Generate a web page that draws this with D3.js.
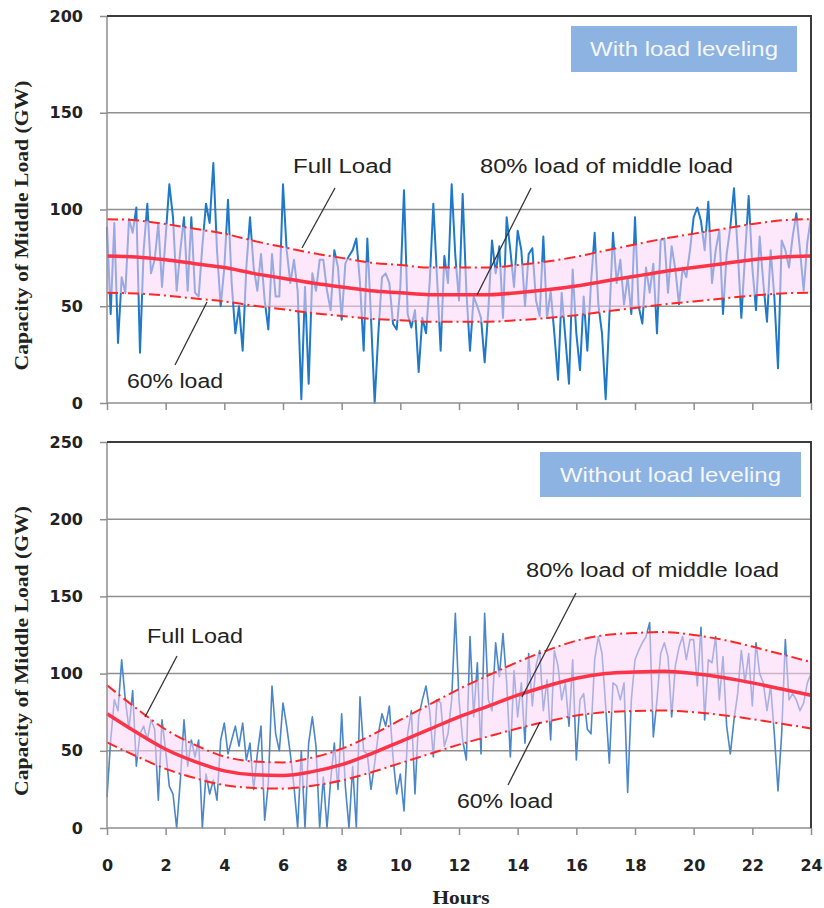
<!DOCTYPE html>
<html>
<head>
<meta charset="utf-8">
<script src="https://cdn.jsdelivr.net/npm/d3@7"></script>
<style>
  body { margin: 0; background: #fff; }
  svg { display: block; }
</style>
</head>
<body>
<svg id="chart"></svg>
<script>
// middle load samples, one every 7.5 minutes (0h .. 24h)
const loadWith = [
  91,46,93,31,65,57,95,88,101,26,79,103,67,74,93,60,86,113,96,58,79,96,58,96,57,55,81,103,93,124,79,50,70,105,62,36,50,27,70,96,70,58,77,53,38,77,55,55,
  113,79,62,74,58,2,60,10,67,58,74,74,58,48,79,70,43,72,76,79,85,62,27,85,44,0,36,65,67,62,41,38,60,110,46,39,48,16,44,36,62,103,65,27,76,62,113,76,53,
  108,58,27,55,50,44,21,48,84,67,81,44,96,79,60,89,79,50,77,80,53,45,86,44,58,36,12,57,34,10,69,36,17,55,27,62,88,51,36,2,44,88,62,74,51,65,46,96,
  50,41,70,57,72,36,84,85,57,81,69,51,70,65,79,96,101,94,79,104,62,79,89,46,77,91,111,79,44,76,107,70,48,86,62,42,79,55,18,84,79,70,86,98,79,58,83,96
];
const loadWithout = [
  20,57,83,76,109,83,64,89,40,61,66,57,70,64,18,70,50,27,22,0,31,70,40,57,46,57,0,35,22,31,18,57,68,48,57,66,53,68,44,55,25,48,66,5,29,92,61,50,
  81,66,48,27,0,50,0,55,72,53,0,33,0,31,55,25,74,27,0,40,0,85,50,48,25,42,61,74,66,79,46,22,35,11,61,76,22,72,83,92,76,46,83,81,53,61,83,139,
  83,57,44,124,72,107,48,139,83,76,120,98,126,94,46,102,72,94,55,113,79,105,115,76,96,57,115,105,83,94,66,109,44,83,87,64,61,109,124,113,79,42,94,92,83,94,23,83,109,
  115,120,124,133,59,83,113,120,111,72,105,117,124,109,122,122,92,130,70,109,107,124,83,111,66,48,70,87,115,94,113,79,120,100,94,76,92,61,24,61,122,83,87,83,76,81,94,100
];

// hourly band curves
const bandHours = [0,1,2,3,4,5,6,7,8,9,10,11,12,13,14,15,16,17,18,19,20,21,22,23,24];
const midWith  = [76,75.5,74,72,70,67,64.5,62,60,58,57,56,56,56,57,58.5,60.5,63,65.5,68,70,72,74,75.5,76];
const fullWith = [95,94.4,92.5,90,87.5,83.8,80.6,77.5,75,72.5,71.3,70,70,70,71.3,73.1,75.6,78.8,81.9,85,87.5,90,92.5,94.4,95];
const lowWith  = [57,56.6,55.5,54,52.5,50.3,48.4,46.5,45,43.5,42.8,42,42,42,42.8,43.9,45.4,47.3,49.1,51,52.5,54,55.5,56.6,57];
const midWithout  = [74,62,51,43,37,34.5,34,36.5,41,48,56,64,72,79,86,92,97,100,101,101.5,100,97.5,94,90,86];
const fullWithout = [92.5,77.5,63.8,53.8,46.3,43.1,42.5,45.6,51.3,60,70,80,90,98.8,107.5,115,121.3,125,126.3,126.9,125,121.9,117.5,112.5,107.5];
const lowWithout  = [55.5,46.5,38.3,32.3,27.8,25.9,25.5,27.4,30.8,36,42,48,54,59.3,64.5,69,72.8,75,75.8,76.1,75,73.1,70.5,67.5,64.5];

const xTicks = [0,2,4,6,8,10,12,14,16,18,20,22,24];
const yTicksWith = [0,50,100,150,200];
const yTicksWithout = [0,50,100,150,200,250];

const sampleStep = 0.125;

const svg = d3.select('#chart').attr('width', 824).attr('height', 908);

const x = d3.scaleLinear().domain([0, 24]).range([107, 811]);

function drawPanel(cfg) {
  const y = d3.scaleLinear().domain([0, cfg.yMax]).range([cfg.bottom, cfg.top]);
  const g = svg.append('g');

  // gridlines
  g.selectAll('.grid')
    .data(cfg.yTicks.filter((t) => t > 0 && t < cfg.yMax))
    .join('line')
    .attr('x1', x(0)).attr('x2', x(24))
    .attr('y1', (d) => y(d)).attr('y2', (d) => y(d))
    .attr('stroke', '#8f8f8f').attr('stroke-width', 1.5);

  // raw load
  const series = cfg.load.map((v, i) => ({ h: i * sampleStep, v }));
  g.append('path')
    .datum(series)
    .attr('fill', 'none')
    .attr('stroke', cfg.lineColor)
    .attr('stroke-width', cfg.lineWidth)
    .attr('stroke-linejoin', 'round')
    .attr('d', d3.line().x((d) => x(d.h)).y((d) => y(d.v)));

  const band = bandHours.map((h, i) => ({ h, mid: cfg.mid[i], full: cfg.full[i], low: cfg.low[i] }));
  const curve = d3.curveMonotoneX;

  g.append('path')
    .datum(band)
    .attr('fill', '#fbd3f7')
    .attr('fill-opacity', 0.55)
    .attr('d', d3.area().curve(curve).x((d) => x(d.h)).y0((d) => y(d.low)).y1((d) => y(d.full)));

  ['full', 'low'].forEach((key) => {
    g.append('path')
      .datum(band)
      .attr('fill', 'none')
      .attr('stroke', '#ff2626')
      .attr('stroke-width', 2)
      .attr('stroke-dasharray', '11,4,2,4')
      .attr('d', d3.line().curve(curve).x((d) => x(d.h)).y((d) => y(d[key])));
  });

  g.append('path')
    .datum(band)
    .attr('fill', 'none')
    .attr('stroke', '#ff3347')
    .attr('stroke-width', 3.5)
    .attr('d', d3.line().curve(curve).x((d) => x(d.h)).y((d) => y(d.mid)));

  // axes
  const yAxis = g.append('g')
    .attr('transform', `translate(${x(0)},0)`)
    .call(d3.axisLeft(y).tickValues(cfg.yTicks).tickSize(7).tickPadding(17));
  yAxis.select('.domain').remove();
  yAxis.selectAll('.tick line').attr('stroke', '#8f8f8f').attr('stroke-width', 1.5);
  yAxis.selectAll('.tick text')
    .attr('font-family', '"DejaVu Sans", sans-serif')
    .attr('font-weight', 'bold')
    .attr('font-size', 16)
    .attr('fill', '#222');

  const xAxis = g.append('g')
    .attr('transform', `translate(0,${cfg.bottom})`)
    .call(d3.axisBottom(x).tickValues(xTicks).tickSize(7).tickPadding(25)
      .tickFormat(cfg.showXLabels ? d3.format('d') : () => ''));
  xAxis.select('.domain').remove();
  xAxis.selectAll('.tick line').attr('stroke', '#8f8f8f').attr('stroke-width', 1.5);
  xAxis.selectAll('.tick text')
    .attr('font-family', '"DejaVu Sans", sans-serif')
    .attr('font-weight', 'bold')
    .attr('font-size', 16)
    .attr('fill', '#222');

  // frame: grey left/bottom, dark top/right
  g.append('line').attr('x1', x(0)).attr('x2', x(0)).attr('y1', cfg.top).attr('y2', cfg.bottom)
    .attr('stroke', '#8f8f8f').attr('stroke-width', 1.5);
  g.append('line').attr('x1', x(0)).attr('x2', x(24)).attr('y1', cfg.bottom).attr('y2', cfg.bottom)
    .attr('stroke', '#8f8f8f').attr('stroke-width', 1.5);
  g.append('path')
    .attr('d', `M${x(0)},${cfg.top}H${x(24)}V${cfg.bottom}`)
    .attr('fill', 'none').attr('stroke', '#3c3c3c').attr('stroke-width', 2);

  // y label
  g.append('text')
    .attr('transform', `translate(28,${(cfg.top + cfg.bottom) / 2 + 16}) rotate(-90)`)
    .attr('text-anchor', 'middle')
    .attr('font-family', '"Liberation Serif", serif')
    .attr('font-weight', 'bold')
    .attr('font-size', 19)
    .attr('fill', '#222')
    .attr('textLength', 290)
    .attr('lengthAdjust', 'spacingAndGlyphs')
    .text('Capacity of Middle Load (GW)');

  // annotations
  cfg.notes.forEach((n) => {
    g.append('line')
      .attr('x1', n.line[0]).attr('y1', n.line[1]).attr('x2', n.line[2]).attr('y2', n.line[3])
      .attr('stroke', '#333').attr('stroke-width', 1.3);
    g.append('text')
      .attr('x', n.x).attr('y', n.y)
      .attr('font-family', '"Liberation Sans", Arial, sans-serif')
      .attr('font-size', 20)
      .attr('fill', '#222')
      .attr('textLength', n.w)
      .attr('lengthAdjust', 'spacingAndGlyphs')
      .text(n.text);
  });

  // label box
  const b = cfg.box;
  g.append('rect')
    .attr('x', b.x).attr('y', b.y).attr('width', b.w).attr('height', b.h)
    .attr('fill', '#8db3e2');
  g.append('text')
    .attr('x', b.x + b.w / 2).attr('y', b.y + b.h / 2 + 7)
    .attr('text-anchor', 'middle')
    .attr('font-family', '"Liberation Sans", Arial, sans-serif')
    .attr('font-size', 20)
    .attr('fill', '#f4f7fc')
    .attr('textLength', b.tw)
    .attr('lengthAdjust', 'spacingAndGlyphs')
    .text(b.text);
}

drawPanel({
  top: 16, bottom: 403, yMax: 200, yTicks: yTicksWith,
  load: loadWith, mid: midWith, full: fullWith, low: lowWith,
  lineColor: '#1f78c8', lineWidth: 2, showXLabels: false,
  box: { x: 571, y: 26, w: 226, h: 46, tw: 188, text: 'With load leveling' },
  notes: [
    { text: 'Full Load', x: 293, y: 173, w: 99, line: [335, 188, 302, 248] },
    { text: '80% load of middle load', x: 480, y: 173, w: 253, line: [531, 188, 477, 295] },
    { text: '60% load', x: 127, y: 388, w: 96, line: [175, 365, 207, 302] },
  ],
});

drawPanel({
  top: 442, bottom: 828, yMax: 250, yTicks: yTicksWithout,
  load: loadWithout, mid: midWithout, full: fullWithout, low: lowWithout,
  lineColor: '#4a86c8', lineWidth: 1.6, showXLabels: true,
  box: { x: 540, y: 452, w: 261, h: 45, tw: 221, text: 'Without load leveling' },
  notes: [
    { text: 'Full Load', x: 147, y: 643, w: 96, line: [177, 656, 145, 717] },
    { text: '80% load of middle load', x: 526, y: 577, w: 253, line: [576, 593, 522, 697] },
    { text: '60% load', x: 457, y: 808, w: 96, line: [508, 785, 540, 722] },
  ],
});

// x label
svg.append('text')
  .attr('x', 461).attr('y', 904)
  .attr('text-anchor', 'middle')
  .attr('font-family', '"Liberation Serif", serif')
  .attr('font-weight', 'bold')
  .attr('font-size', 19)
  .attr('fill', '#222')
  .attr('textLength', 57)
  .attr('lengthAdjust', 'spacingAndGlyphs')
  .text('Hours');
</script>
</body>
</html>
